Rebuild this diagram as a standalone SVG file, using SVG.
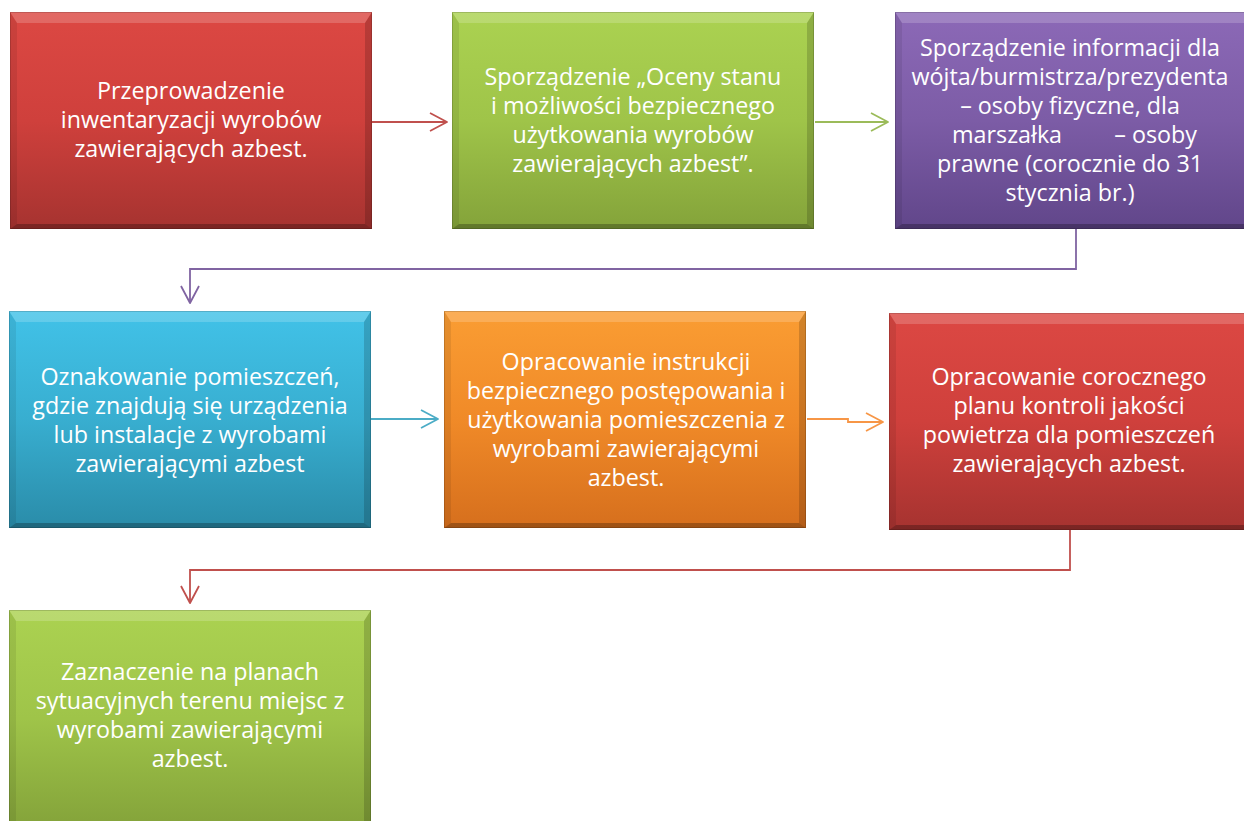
<svg xmlns="http://www.w3.org/2000/svg" xmlns:xlink="http://www.w3.org/1999/xlink" width="1244" height="821" viewBox="0 0 1244 821">
<style>
.t{font-family:"Open Sans","Liberation Sans",sans-serif;font-size:23.3px;fill:#ffffff;text-anchor:middle}
.ts{font-family:"Open Sans","Liberation Sans",sans-serif;font-size:23.3px;fill:#ffffff}
.c{fill:none;stroke-width:1.8}
.edge{fill:none;stroke:#000;stroke-opacity:.15;stroke-width:1}
</style>
<defs>
<linearGradient id="gRed" x1="0" y1="0" x2="0" y2="1"><stop offset="0" stop-color="#dc4843"/><stop offset="0.5" stop-color="#cf403c"/><stop offset="1" stop-color="#a63330"/></linearGradient>
<linearGradient id="gGreen" x1="0" y1="0" x2="0" y2="1"><stop offset="0" stop-color="#abd251"/><stop offset="0.5" stop-color="#9fc449"/><stop offset="1" stop-color="#84a33a"/></linearGradient>
<linearGradient id="gPurple" x1="0" y1="0" x2="0" y2="1"><stop offset="0" stop-color="#8c69b7"/><stop offset="0.5" stop-color="#7c5ca6"/><stop offset="1" stop-color="#61468a"/></linearGradient>
<linearGradient id="gBlue" x1="0" y1="0" x2="0" y2="1"><stop offset="0" stop-color="#41c2e8"/><stop offset="0.5" stop-color="#38aed0"/><stop offset="1" stop-color="#2a8ca9"/></linearGradient>
<linearGradient id="gOrange" x1="0" y1="0" x2="0" y2="1"><stop offset="0" stop-color="#fa9d33"/><stop offset="0.5" stop-color="#f08a28"/><stop offset="1" stop-color="#d66f1d"/></linearGradient>
<g id="bevel">
<polygon points="0,0 362,0 355,11 7,11" fill="#ffffff" fill-opacity="0.18"/>
<polygon points="0,0 7,11 7,212 0,217" fill="#000000" fill-opacity="0.08"/>
<polygon points="362,0 362,217 355,212 355,11" fill="#000000" fill-opacity="0.16"/>
<polygon points="0,217 7,212 355,212 362,217" fill="#000000" fill-opacity="0.26"/>
<rect x="0.5" y="0.5" width="361" height="216" class="edge"/>
</g>
<marker id="aRed" markerUnits="userSpaceOnUse" markerWidth="24" markerHeight="24" viewBox="-20 -12 24 24" refX="0" refY="0" orient="auto"><path d="M-17,-9 L0,0 L-17,9" fill="none" stroke="#c0504d" stroke-width="1.8" stroke-linejoin="round"/></marker>
<marker id="aGreen" markerUnits="userSpaceOnUse" markerWidth="24" markerHeight="24" viewBox="-20 -12 24 24" refX="0" refY="0" orient="auto"><path d="M-17,-9 L0,0 L-17,9" fill="none" stroke="#9bbb59" stroke-width="1.8" stroke-linejoin="round"/></marker>
<marker id="aPurple" markerUnits="userSpaceOnUse" markerWidth="24" markerHeight="24" viewBox="-20 -12 24 24" refX="0" refY="0" orient="auto"><path d="M-17,-9 L0,0 L-17,9" fill="none" stroke="#8064a2" stroke-width="1.8" stroke-linejoin="round"/></marker>
<marker id="aBlue" markerUnits="userSpaceOnUse" markerWidth="24" markerHeight="24" viewBox="-20 -12 24 24" refX="0" refY="0" orient="auto"><path d="M-17,-9 L0,0 L-17,9" fill="none" stroke="#4bacc6" stroke-width="1.8" stroke-linejoin="round"/></marker>
<marker id="aOrange" markerUnits="userSpaceOnUse" markerWidth="24" markerHeight="24" viewBox="-20 -12 24 24" refX="0" refY="0" orient="auto"><path d="M-17,-9 L0,0 L-17,9" fill="none" stroke="#f79646" stroke-width="1.8" stroke-linejoin="round"/></marker>
</defs>
<rect width="1244" height="821" fill="#ffffff"/>

<g id="connectors">
<path class="c" stroke="#c0504d" d="M372,122 H447" marker-end="url(#aRed)"/>
<path class="c" stroke="#9bbb59" d="M815,122 H888" marker-end="url(#aGreen)"/>
<path class="c" stroke="#8064a2" d="M1076,229 V269 H190 V303" marker-end="url(#aPurple)"/>
<path class="c" stroke="#4bacc6" d="M371,419 H438" marker-end="url(#aBlue)"/>
<path class="c" stroke="#f79646" d="M807,419 H848 V422 H883" marker-end="url(#aOrange)"/>
<path class="c" stroke="#c0504d" d="M1070,530 V570 H190 V603" marker-end="url(#aRed)"/>
</g>

<g id="node1">
<rect x="10" y="12" width="362" height="217" fill="url(#gRed)"/>
<use xlink:href="#bevel" href="#bevel" x="10" y="12"/>
<text class="t"><tspan x="191" y="99">Przeprowadzenie</tspan><tspan x="191" y="128">inwentaryzacji wyrobów</tspan><tspan x="191" y="157">zawierających azbest.</tspan></text>
</g>

<g id="node2">
<rect x="452" y="12" width="362" height="217" fill="url(#gGreen)"/>
<use xlink:href="#bevel" href="#bevel" x="452" y="12"/>
<text class="t"><tspan x="633" y="85">Sporządzenie „Oceny stanu</tspan><tspan x="633" y="114">i możliwości bezpiecznego</tspan><tspan x="633" y="143">użytkowania wyrobów</tspan><tspan x="633" y="172">zawierających azbest”.</tspan></text>
</g>

<g id="node3">
<rect x="895" y="12" width="362" height="217" fill="url(#gPurple)"/>
<use xlink:href="#bevel" href="#bevel" x="895" y="12"/>
<text class="t"><tspan x="1070" y="56">Sporządzenie informacji dla</tspan><tspan x="1070" y="85">wójta/burmistrza/prezydenta</tspan><tspan x="1070" y="114">– osoby fizyczne, dla</tspan></text>
<text class="ts"><tspan x="952" y="143" text-anchor="start">marszałka</tspan><tspan x="1197" y="143" text-anchor="end">– osoby</tspan></text>
<text class="t"><tspan x="1070" y="172">prawne (corocznie do 31</tspan><tspan x="1070" y="201">stycznia br.)</tspan></text>
</g>

<g id="node4">
<rect x="9" y="311" width="362" height="217" fill="url(#gBlue)"/>
<use xlink:href="#bevel" href="#bevel" x="9" y="311"/>
<text class="t"><tspan x="190" y="385">Oznakowanie pomieszczeń,</tspan><tspan x="190" y="414">gdzie znajdują się urządzenia</tspan><tspan x="190" y="443">lub instalacje z wyrobami</tspan><tspan x="190" y="472">zawierającymi azbest</tspan></text>
</g>

<g id="node5">
<rect x="444" y="311" width="362" height="217" fill="url(#gOrange)"/>
<use xlink:href="#bevel" href="#bevel" x="444" y="311"/>
<text class="t"><tspan x="626" y="370">Opracowanie instrukcji</tspan><tspan x="626" y="399">bezpiecznego postępowania i</tspan><tspan x="626" y="428">użytkowania pomieszczenia z</tspan><tspan x="626" y="457">wyrobami zawierającymi</tspan><tspan x="626" y="486">azbest.</tspan></text>
</g>

<g id="node6">
<rect x="889" y="313" width="362" height="217" fill="url(#gRed)"/>
<use xlink:href="#bevel" href="#bevel" x="889" y="313"/>
<text class="t"><tspan x="1069" y="385">Opracowanie corocznego</tspan><tspan x="1069" y="414">planu kontroli jakości</tspan><tspan x="1069" y="443">powietrza dla pomieszczeń</tspan><tspan x="1069" y="472">zawierających azbest.</tspan></text>
</g>

<g id="node7">
<rect x="9" y="610" width="362" height="217" fill="url(#gGreen)"/>
<use xlink:href="#bevel" href="#bevel" x="9" y="610"/>
<text class="t"><tspan x="190" y="680">Zaznaczenie na planach</tspan><tspan x="190" y="709">sytuacyjnych terenu miejsc z</tspan><tspan x="190" y="738">wyrobami zawierającymi</tspan><tspan x="190" y="767">azbest.</tspan></text>
</g>
</svg>
